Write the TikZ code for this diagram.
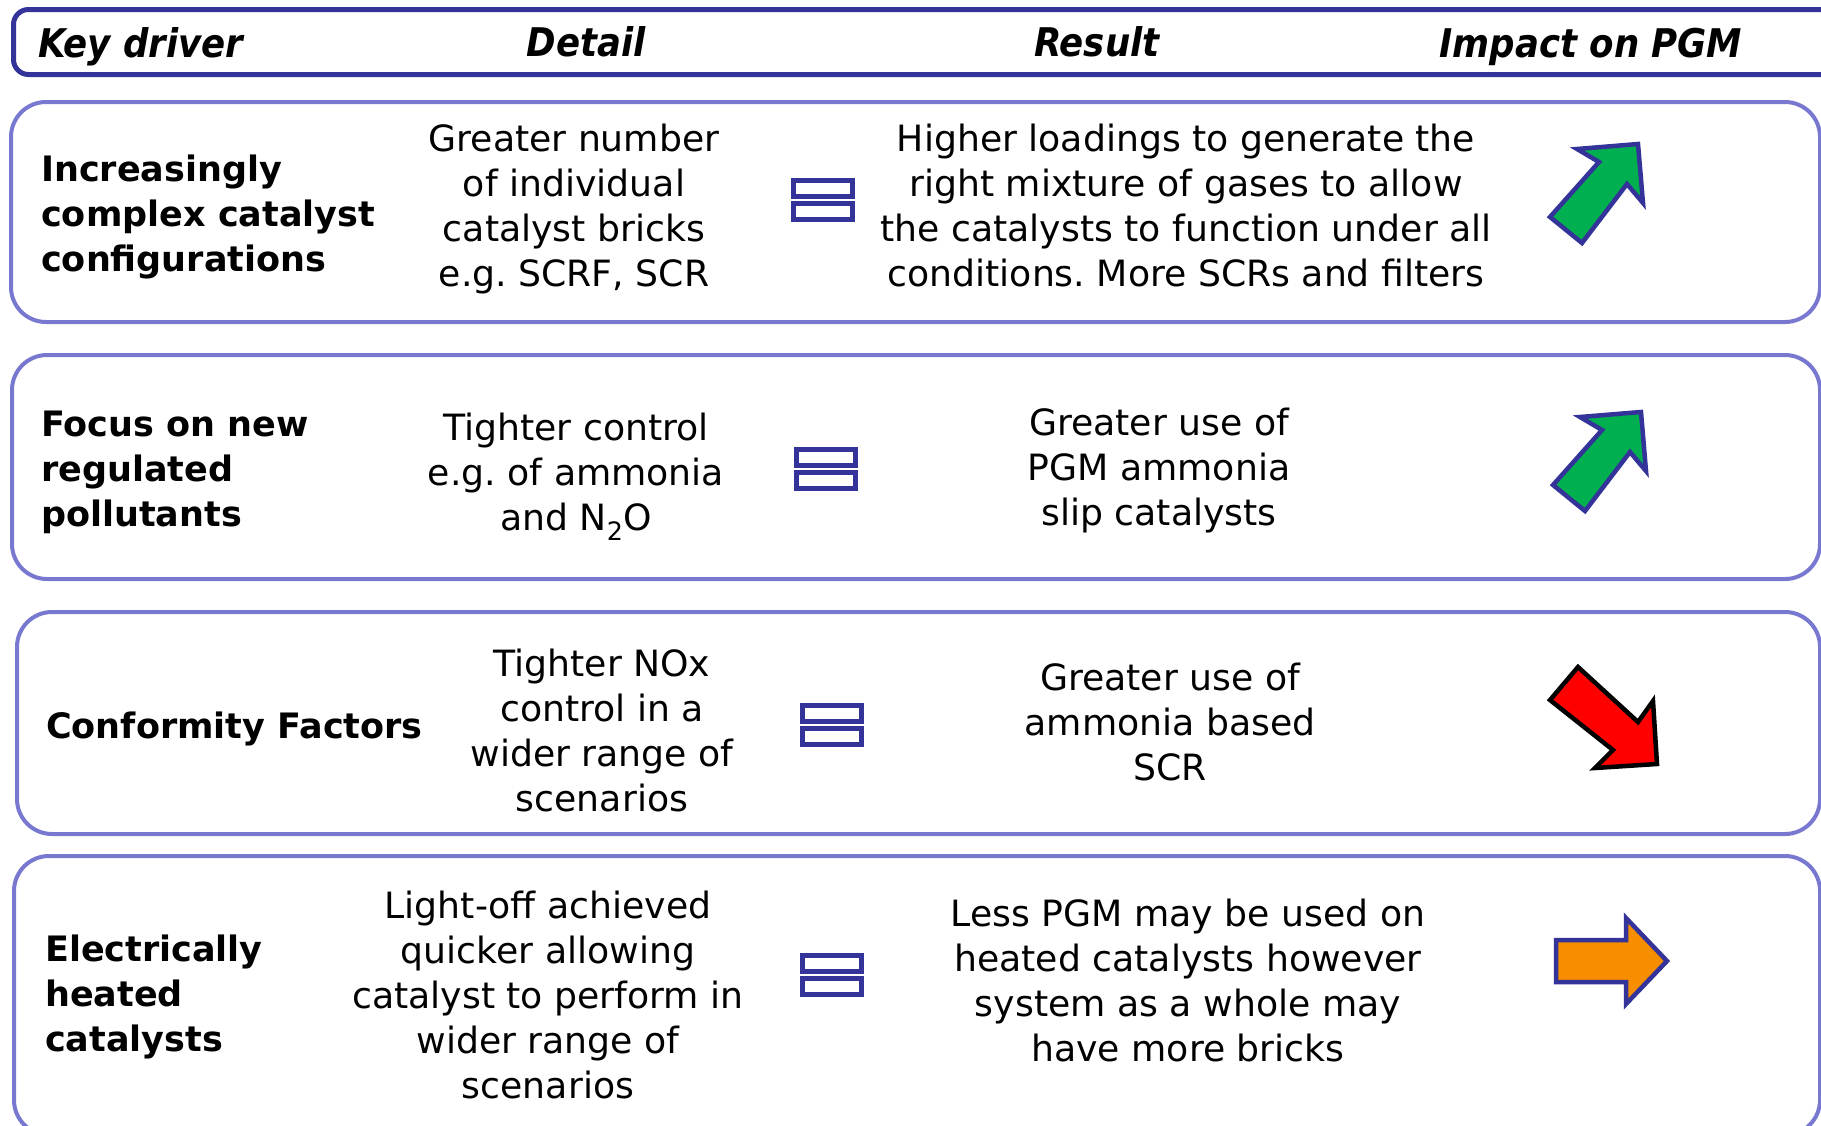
\documentclass[tikz,border=0pt]{standalone}
\usepackage{fontspec}
\setmainfont{DejaVu Sans}
\newfontfamily\headfont{DejaVu Sans Condensed}
\usetikzlibrary{positioning}
\frenchspacing

\definecolor{navy}{RGB}{51,51,153}
\definecolor{rowline}{RGB}{120,120,208}
\definecolor{upgreen}{RGB}{0,176,80}
\definecolor{flatorange}{RGB}{247,142,0}

\begin{document}
\begin{tikzpicture}[x=1pt,y=-1pt,
  hdrbox/.style={draw=navy,line width=5pt,rounded corners=15pt},
  rowbox/.style={draw=rowline,line width=4pt,rounded corners=35pt},
  hdr/.style={anchor=base,font=\headfont\fontsize{39.5}{45}\selectfont\bfseries\itshape,inner sep=0pt},
  ttl/.style={anchor=west,align=left,font=\fontsize{35}{45}\selectfont\bfseries,inner sep=0pt},
  txt/.style={align=center,font=\fontsize{36.2}{45}\selectfont,inner sep=0pt},
  eqbar/.style={draw=navy,line width=5pt,fill=white},
  impup/.style={draw=navy,line width=4.5pt,fill=upgreen,line join=miter},
  impdown/.style={draw=black,line width=4.5pt,fill=red,line join=miter},
  impflat/.style={draw=navy,line width=4.5pt,fill=flatorange,line join=miter}]
  \useasboundingbox (0,0) rectangle (1821,1125);
  \clip (0,0) rectangle (1821,1125);

  % frames
  \draw[hdrbox] (13.5,9.5) rectangle (1860,74.5);
  \draw[rowbox] (11,102) rectangle (1820,322);
  \draw[rowbox] (12,355) rectangle (1820,579);
  \draw[rowbox] (17,612) rectangle (1820,834);
  \draw[rowbox] (14,856) rectangle (1820,1135);

  % header
  \node[hdr,anchor=base west] (hkey) at (38,57) {Key driver};
  \node[hdr] (hdet) at (586,56) {Detail};
  \node[hdr] (hres) at (1097,56) {Result};
  \node[hdr] (himp) at (1591,57) {Impact on PGM};

  % row 1
  \node[ttl] (k1) at (41,217) {Increasingly\\complex catalyst\\configurations};
  \node[txt] (d1) at (574,209) {Greater number\\of individual\\catalyst bricks\\e.g. SCRF, SCR};
  \node[txt] (r1) at (1186,205) {Higher loadings to generate the\\right mixture of gases to allow\\the catalysts to function under all\\conditions. More SCRs and filters};

  % row 2
  \node[ttl] (k2) at (41,472) {Focus on new\\regulated\\pollutants};
  \node[txt] (d2) at (576,477) {Tighter control\\e.g. of ammonia\\and N\textsubscript{2}O};
  \node[txt] (r2) at (1159,471) {Greater use of\\PGM ammonia\\slip catalysts};

  % row 3
  \node[ttl] (k3) at (46,729) {Conformity Factors};
  \node[txt] (d3) at (602,730) {Tighter NOx\\control in a\\wider range of\\scenarios};
  \node[txt] (r3) at (1170,722) {Greater use of\\ammonia based\\SCR};

  % row 4
  \node[ttl] (k4) at (45,997) {Electrically\\heated\\catalysts};
  \node[txt] (d4) at (548,995) {Light-off achieved\\quicker allowing\\catalyst to perform in\\wider range of\\scenarios};
  \node[txt] (r4) at (1188,980) {Less PGM may be used on\\heated catalysts however\\system as a whole may\\have more bricks};

  % equals signs
  \foreach \x/\y in {791/178, 794/447, 800/703, 800/953} {
    \draw[eqbar] (\x+2.5,\y+2.5) rectangle ++(59,16);
    \draw[eqbar] (\x+2.5,\y+25.5) rectangle ++(59,16);
  }

  % impact arrows
  \draw[impup] (1638,144) -- (1577,149) -- (1599,162) -- (1550,217) -- (1582,243)
    -- (1627,184) -- (1643,203) -- cycle;
  \draw[impup,shift={(3,268)}] (1638,144) -- (1577,149) -- (1599,162) -- (1550,217) -- (1582,243)
    -- (1627,184) -- (1643,203) -- cycle;
  \draw[impdown] (1550,700) -- (1578,667) -- (1638,722) -- (1653,701) -- (1657,764)
    -- (1595,768) -- (1613,750) -- cycle;
  \draw[impflat] (1556,940) -- (1626,940) -- (1626,918) -- (1667,961) -- (1626,1004)
    -- (1626,982) -- (1556,982) -- cycle;
\end{tikzpicture}
\end{document}
